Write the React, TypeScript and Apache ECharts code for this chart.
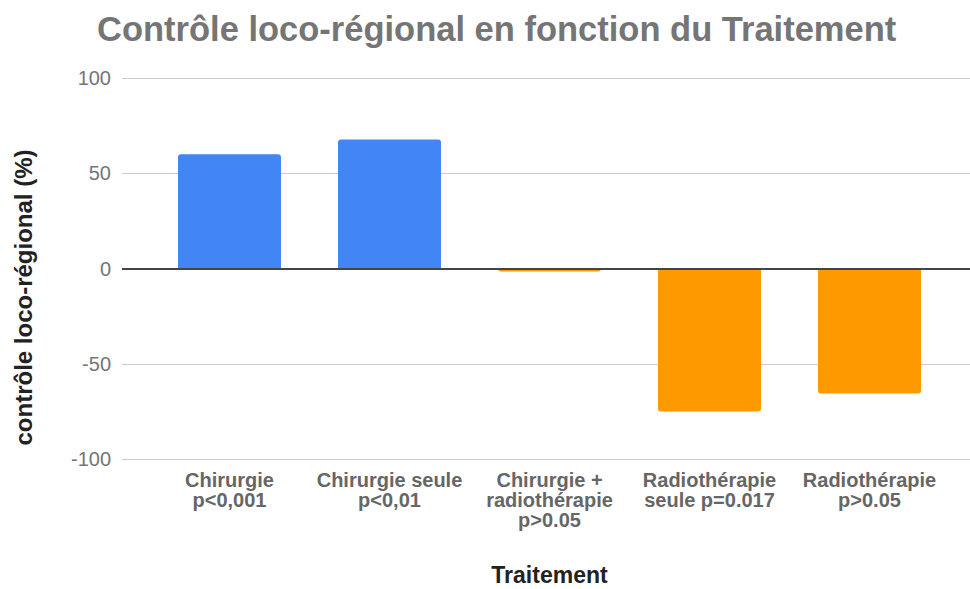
import React, { useEffect, useRef } from "react";
import * as echarts from "echarts";

const categories = [
  "Chirurgie\np<0,001",
  "Chirurgie seule\np<0,01",
  "Chirurgie +\nradiothérapie\np>0.05",
  "Radiothérapie\nseule p=0.017",
  "Radiothérapie\np>0.05",
];
const values = [60, 67.7, -1.6, -75, -65.6];
const yMin = -100;
const yMax = 100;
const yInterval = 50;

const FONT = "'Liberation Sans', Arial, sans-serif";

export default function App() {
  const ref = useRef<HTMLDivElement>(null);
  useEffect(() => {
    const chart = echarts.init(ref.current!, null, { renderer: "svg" });
    chart.setOption({
      animation: false,
      backgroundColor: "#ffffff",
      textStyle: { fontFamily: FONT },
      title: {
        text: "Contrôle loco-régional en fonction du Traitement",
        left: 92,
        top: 6,
        textStyle: { fontFamily: FONT, fontSize: 34.5, fontWeight: "bold", color: "#757575" },
      },
      grid: [
        { left: 122, right: 0, top: 78, bottom: 130, outerBoundsMode: "none", containLabel: false },
        { left: 149.5, right: 20.5, top: 78, bottom: 130, outerBoundsMode: "none", containLabel: false },
      ],
      xAxis: [
        {
          gridIndex: 0,
          type: "value",
          min: 0,
          max: 1,
          show: false,
        },
        {
          gridIndex: 1,
          type: "category",
          data: categories,
          position: "bottom",
          axisLine: { show: false, onZero: false },
          axisTick: { show: false },
          axisLabel: {
            fontFamily: FONT,
            fontSize: 20,
            fontWeight: "bold",
            color: "#666666",
            lineHeight: 20,
            margin: 11,
            interval: 0,
          },
          name: "Traitement",
          nameLocation: "middle",
          nameGap: 106.5,
          nameTextStyle: {
            fontFamily: FONT,
            fontSize: 23,
            fontWeight: "bold",
            color: "#222222",
            lineHeight: 18,
          },
        },
      ],
      yAxis: [
        {
          gridIndex: 0,
          type: "value",
          min: yMin,
          max: yMax,
          interval: yInterval,
          axisLine: { show: false },
          axisTick: { show: false },
          axisLabel: { fontFamily: FONT, fontSize: 20, color: "#757575", margin: 11 },
          splitLine: { show: true, lineStyle: { color: "#cccccc", width: 1 } },
          name: "contrôle loco-régional (%)",
          nameLocation: "middle",
          nameGap: 87,
          nameTextStyle: {
            fontFamily: FONT,
            fontSize: 24,
            fontWeight: "bold",
            color: "#222222",
            padding: [0, 58, 0, 0],
          },
        },
        {
          gridIndex: 1,
          type: "value",
          min: yMin,
          max: yMax,
          interval: yInterval,
          show: false,
          splitLine: { show: false },
        },
      ],
      series: [
        {
          type: "bar",
          xAxisIndex: 1,
          yAxisIndex: 1,
          barWidth: 103,
          z: 2,
          data: values.map((v) => ({
            value: v,
            itemStyle: {
              color: v >= 0 ? "#4285F4" : "#FF9900",
              borderRadius: v >= 0 ? [3, 3, 0, 0] : [0, 0, 3, 3],
            },
          })),
        },
        {
          type: "line",
          xAxisIndex: 0,
          yAxisIndex: 0,
          data: [],
          z: 5,
          silent: true,
          markLine: {
            silent: true,
            symbol: "none",
            label: { show: false },
            lineStyle: { color: "#444444", width: 2, type: "solid" },
            data: [{ yAxis: 0 }],
          },
        },
      ],
    });
    return () => chart.dispose();
  }, []);
  return (
    <div
      ref={ref}
      style={{ position: "fixed", left: 0, top: 0, width: 970, height: 589, background: "#fff" }}
    />
  );
}
